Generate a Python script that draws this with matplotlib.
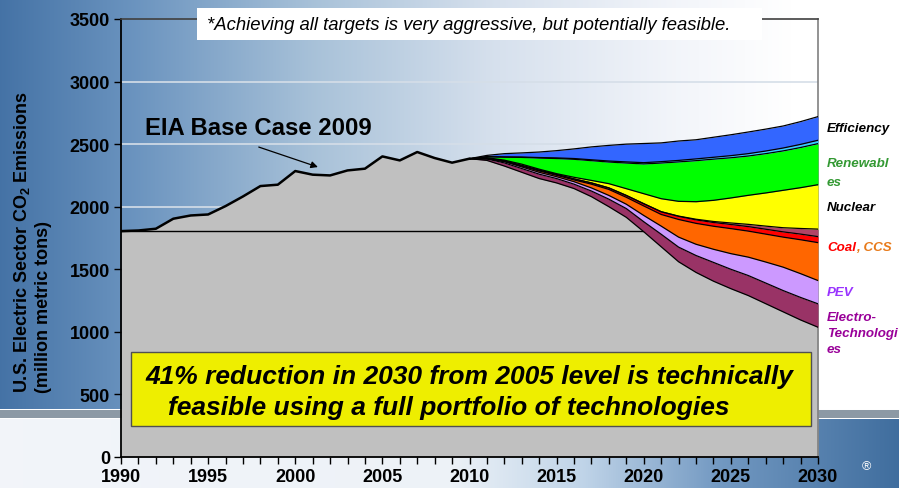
import numpy as np
import matplotlib
matplotlib.use("Agg")
import matplotlib.pyplot as plt
from matplotlib.patches import Rectangle
from matplotlib.text import Annotation

plt.rcParams['font.family'] = ['Liberation Sans', 'DejaVu Sans']
plt.rcParams['mathtext.fontset'] = 'custom'
plt.rcParams['mathtext.rm'] = 'Liberation Sans'
plt.rcParams['mathtext.bf'] = 'Liberation Sans:bold'

# ---------------- data ----------------
hist_years = list(range(1990, 2011))
hist_emissions = [1805, 1810, 1824, 1904, 1930, 1938, 2005, 2082, 2165, 2176,
                  2285, 2256, 2250, 2290, 2304, 2402, 2370, 2437, 2389, 2352, 2384]

proj_years = list(range(2010, 2031))
residual = [2384, 2370, 2325, 2275, 2225, 2190, 2145, 2080, 2000, 1915, 1800,
            1680, 1560, 1475, 1405, 1345, 1290, 1225, 1160, 1095, 1037]
electro = [0, 12, 25, 30, 35, 35, 35, 45, 60, 70, 80, 100, 117, 135, 150, 155,
           160, 165, 170, 180, 187]
pev = [0, 2, 10, 13, 15, 15, 20, 25, 30, 35, 50, 65, 80, 90, 105, 125, 147,
       168, 187, 190, 186]
ccs = [0, 0, 3, 7, 11, 11, 14, 30, 48, 55, 76, 93, 141, 167, 184, 200, 208,
       223, 240, 271, 303]
coal = [0, 1, 3, 5, 6, 7, 8, 10, 12, 15, 18, 22, 25, 28, 30, 33, 36, 39, 42,
        45, 48]
fossil_other = [0, 0, 0, 0, 0, 0, 0, 0, 0, 0, 0, 0, 2, 5, 8, 12, 18, 25, 33,
                45, 60]
nuclear = [0, 7, 6, 10, 8, 6, 13, 20, 34, 54, 80, 104, 118, 140, 169, 200, 232,
           265, 299, 326, 355]
renewables = [0, 7, 24, 54, 89, 121, 144, 158, 173, 205, 238, 285, 315, 328,
              329, 321, 314, 314, 315, 321, 328]
renew_other = [0, 1, 2, 3, 4, 5, 6, 7, 8, 9, 10, 11, 12, 14, 15, 17, 19, 21,
               23, 25, 27]
efficiency = [0, 10, 26, 33, 44, 58, 77, 103, 125, 142, 153, 150, 155, 153,
              160, 167, 173, 175, 176, 182, 189]

wedges = [electro, pev, ccs, coal, fossil_other, nuclear, renewables,
          renew_other, efficiency]
wedge_colors = ['#993366', '#CC99FF', '#FF6600', '#FF0000', '#B04466',
                '#FFFF00', '#00FF00', '#33CCFF', '#3366FF']

y_ticks = [0, 500, 1000, 1500, 2000, 2500, 3000, 3500]
x_ticks = [1990, 1995, 2000, 2005, 2010, 2015, 2020, 2025, 2030]

W, H = 899, 489
fig = plt.figure(figsize=(W / 100, H / 100), dpi=100)

# ---------------- background ----------------
bg = fig.add_axes([0, 0, 1, 1], zorder=-10)
bg.axis('off')
xs = np.linspace(0, 1, W)
def grad(stops):
    t = [s[0] for s in stops]
    return np.stack([np.interp(xs, t, [s[1][i] for s in stops]) for i in range(3)], axis=1)
top_row = grad([(0, (0.27, 0.45, 0.65)), (0.15, (0.42, 0.58, 0.75)),
                (0.35, (0.66, 0.76, 0.85)), (0.55, (0.84, 0.88, 0.93)),
                (0.75, (0.95, 0.96, 0.98)), (0.88, (1, 1, 1)), (1, (1, 1, 1))])
bot_row = grad([(0, (0.95, 0.96, 0.98)), (0.5, (0.93, 0.95, 0.97)),
                (0.65, (0.75, 0.83, 0.91)), (0.8, (0.45, 0.6, 0.76)),
                (1.0, (0.25, 0.43, 0.62))])
img = np.zeros((H, W, 3))
img[:410] = top_row
img[410] = (1, 1, 1)
img[411:419] = (0.55, 0.60, 0.65)
img[419] = (1, 1, 1)
img[420:] = bot_row
bg.imshow(img, aspect='auto', extent=[0, 1, 0, 1])
bg.set_xlim(0, 1); bg.set_ylim(0, 1)

# ---------------- main axes ----------------
ax = fig.add_axes([121 / W, 31 / H, 697 / W, 438 / H])
ax.set_facecolor('none')
ax.set_xlim(1990, 2030)
ax.set_ylim(0, 3500)

for g in [2000, 2500, 3000]:
    ax.axhline(g, color='#D5DEE8', lw=1.2, zorder=0)

all_years = hist_years + proj_years[1:]
gray_series = hist_emissions + residual[1:]
ax.fill_between(all_years, 0, gray_series, color='#C0C0C0', lw=0, zorder=1)

# horizontal 1990-level line
level = hist_emissions[0]
x_end = np.interp(level, residual[::-1], proj_years[::-1])
ax.plot([1990, x_end], [level, level], color='black', lw=1, zorder=2)

base = np.array(residual, dtype=float)
for vals, col in zip(wedges, wedge_colors):
    top = base + np.array(vals)
    ax.fill_between(proj_years, base, top, color=col, lw=0, zorder=3)
    base = top
base = np.array(residual, dtype=float)
ax.plot(proj_years, base, color='black', lw=0.9, zorder=4)
for vals in wedges:
    base = base + np.array(vals)
    ax.plot(proj_years, base, color='black', lw=0.9, zorder=4)
ax.plot(hist_years, hist_emissions, color='black', lw=1.8, zorder=4)

# spines / ticks
for s in ['left', 'bottom']:
    ax.spines[s].set_color('black'); ax.spines[s].set_linewidth(1.3)
ax.spines['top'].set_color('#404040'); ax.spines['top'].set_linewidth(1.2)
ax.spines['right'].set_color('#808080'); ax.spines['right'].set_linewidth(1.2)
ax.set_yticks(y_ticks)
ax.set_yticklabels([str(v) for v in y_ticks], fontsize=13, fontweight='bold')
ax.set_xticks(x_ticks)
ax.set_xticklabels([str(v) for v in x_ticks], fontsize=13, fontweight='bold')
ax.set_xticks(list(range(1990, 2031)), minor=True)
ax.tick_params(axis='both', which='both', direction='out', length=5, width=1,
               color='black', pad=3)

# y label (two lines, bottom aligned)
fig.text(22 / W, 1 - 393 / H, r'U.S. Electric Sector CO$_\mathbf{2}$ Emissions',
         rotation=90, rotation_mode='anchor', ha='left', va='center',
         fontsize=13, fontweight='bold')
fig.text(43 / W, 1 - 393 / H, '(million metric tons)',
         rotation=90, rotation_mode='anchor', ha='left', va='center',
         fontsize=13, fontweight='bold')

# top note
fig.patches.append(Rectangle((197 / W, 1 - 41 / H), 565 / W, 32 / H,
                             transform=fig.transFigure, facecolor='white',
                             edgecolor='none', zorder=5))
fig.text(207 / W, 1 - 25 / H,
         '*Achieving all targets is very aggressive, but potentially feasible.',
         fontsize=13.3, style='italic', ha='left', va='center', zorder=6)

# EIA annotation
ax.annotate('EIA Base Case 2009', xy=(2001.3, 2317), xytext=(1991.4, 2581),
            fontsize=17.2, fontweight='bold', ha='left', va='baseline', zorder=6,
            arrowprops=dict(arrowstyle='-|>', color='black', lw=0.9,
                            mutation_scale=10, shrinkA=0, shrinkB=0,
                            relpos=(0.5, -0.35)))

# yellow box
ax.add_patch(Rectangle((1990.57, 248), 2029.6 - 1990.57, 839 - 248,
                       facecolor='#EEEE00', edgecolor='#505050', lw=1, zorder=6))
ax.text(1991.4, 592, '41% reduction in 2030 from 2005 level is technically',
        fontsize=19, fontweight='bold', style='italic', ha='left',
        va='baseline', zorder=7)
ax.text(1992.7, 344, 'feasible using a full portfolio of technologies',
        fontsize=19, fontweight='bold', style='italic', ha='left',
        va='baseline', zorder=7)

# right labels
def rlabel(y, s, c):
    return fig.text(827 / W, 1 - y / H, s, color=c, fontsize=9.6,
                    fontweight='bold', style='italic', ha='left', va='center')
rlabel(129, 'Efficiency', 'black')
rlabel(164, 'Renewabl', '#339933')
rlabel(183, 'es', '#339933')
rlabel(208, 'Nuclear', 'black')
t_coal = rlabel(248, 'Coal', '#FF0000')
fig.add_artist(Annotation(', CCS', xy=(1, 0.5), xycoords=t_coal, va='center',
                          ha='left', color='#E87A1A', fontsize=9.6,
                          fontweight='bold', style='italic'))
rlabel(293, 'PEV', '#9933FF')
rlabel(318, 'Electro-', '#990099')
rlabel(334, 'Technologi', '#990099')
rlabel(350, 'es', '#990099')

fig.text(862 / W, 1 - 470 / H, '®', color='white', fontsize=9)

fig.savefig('out.png', dpi=100)
